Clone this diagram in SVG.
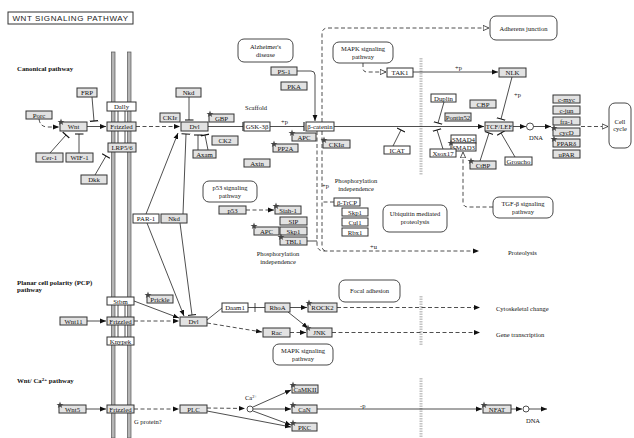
<svg xmlns="http://www.w3.org/2000/svg" xmlns:xlink="http://www.w3.org/1999/xlink" width="634" height="438" viewBox="0 0 634 438">
<style>
.g{fill:#e2e2e2;stroke:#333;stroke-width:1}
.w{fill:#fff;stroke:#333;stroke-width:1}
.m{fill:#fff;stroke:#333;stroke-width:0.9}
.t{font-family:"Liberation Serif",serif;font-size:6.8px;text-anchor:middle;fill:#111}
.s{font-family:"Liberation Serif",serif;font-size:6.5px;fill:#111}
.c{text-anchor:middle}
.h{font-family:"Liberation Serif",serif;font-size:6.8px;font-weight:bold;fill:#111}
.l{fill:none;stroke:#222;stroke-width:0.8}
.d{fill:none;stroke:#222;stroke-width:0.8;stroke-dasharray:4 2.5}
.mem{fill:#b5b5b5;stroke:#555;stroke-width:0.7}
.cx{fill:none;stroke:#222;stroke-width:0.8}
</style>
<defs>
<marker id="a" viewBox="0 0 10 10" refX="10" refY="5" markerWidth="6" markerHeight="6" markerUnits="userSpaceOnUse" orient="auto"><path d="M0,1 L10,5 L0,9z" fill="#111"/></marker>
<marker id="o" viewBox="0 0 12 12" refX="11" refY="6" markerWidth="7" markerHeight="7" markerUnits="userSpaceOnUse" orient="auto"><path d="M1,1.5 L11,6 L1,10.5z" fill="#fff" stroke="#111" stroke-width="1.2"/></marker>
<marker id="b" viewBox="0 0 4 12" refX="2" refY="6" markerWidth="4" markerHeight="9" markerUnits="userSpaceOnUse" orient="auto"><path d="M2,0 V12" stroke="#111" stroke-width="1.4"/></marker>
<path id="st" d="M0,-3.6 L0.9,-1.1 3.5,-1.1 1.4,0.5 2.2,3 0,1.5 -2.2,3 -1.4,0.5 -3.5,-1.1 -0.9,-1.1Z" fill="#444"/>
</defs>

<!-- title -->
<g id="title"><rect x="8" y="12" width="125" height="12" fill="#fff" stroke="#333"/><text x="70.5" y="21" font-family="Liberation Sans,sans-serif" font-size="8" text-anchor="middle" letter-spacing="0.6" fill="#222">WNT SIGNALING PATHWAY</text></g>

<!-- membranes -->
<g id="membrane">
<rect class="mem" x="111.5" y="52" width="3.5" height="386"/>
<rect class="mem" x="127.5" y="52" width="3.5" height="386"/>
</g>
<g id="watermark" stroke="#c4c4c4" stroke-width="3" stroke-dasharray="1.5 1">
<line x1="421" y1="58" x2="421" y2="175"/>
<line x1="421" y1="296" x2="421" y2="346"/>
<line x1="421" y1="378" x2="421" y2="438"/>
</g>

<!-- section labels -->
<g id="labels">
<text class="h" x="17" y="71">Canonical pathway</text>
<text class="h" x="17" y="285">Planar cell polarity (PCP)</text>
<text class="h" x="17" y="292">pathway</text>
<text class="h" x="17" y="383">Wnt/ Ca<tspan font-size="5" dy="-2.5">2+</tspan><tspan dy="2.5"> pathway</tspan></text>
<text class="s c" x="256" y="110">Scaffold</text>
<text class="s" x="281" y="124">+p</text>
<text class="s" x="455" y="70">+p</text>
<text class="s" x="514" y="97">+p</text>
<text class="s" x="322" y="188">+p</text>
<text class="s c" x="356" y="183">Phosphorylation</text>
<text class="s c" x="356" y="191">independence</text>
<text class="s c" x="278" y="256">Phosphorylation</text>
<text class="s c" x="278" y="264">independence</text>
<text class="s" x="370" y="249">+u</text>
<text class="s" x="508" y="255">Proteolysis</text>
<text class="s c" x="536" y="140">DNA</text>
<text class="s c" x="533" y="423">DNA</text>
<text class="s" x="496" y="311">Cytoskeletal change</text>
<text class="s" x="496" y="337">Gene transcription</text>
<text class="s" x="134" y="424">G protein?</text>
<text class="s" x="360" y="408">-p</text>
<text class="s" x="245" y="400">Ca<tspan font-size="4.5" dy="-2.5">2+</tspan></text>
</g>

<!-- connectors -->
<g id="connectors">
<path class="d" d="M39,119 Q40,127 48,127 L59,127" marker-end="url(#a)"/>
<path class="l" d="M92,97 L94,121" marker-end="url(#b)"/>
<path class="l" d="M87,126.5 L106,126.5" marker-end="url(#a)"/>
<path class="l" d="M50,153 L66,135" marker-end="url(#b)"/>
<path class="l" d="M79,153 L79,134" marker-end="url(#b)"/>
<path class="l" d="M95,175 L106,156" marker-end="url(#b)"/>
<path class="d" d="M136,126.5 L180,126.5" marker-end="url(#a)"/>
<path class="cx" d="M118,111 V122 M125,111 V122 M118,131 V143 M125,131 V143"/>
<path class="l" d="M189,97 L189,120" marker-end="url(#b)"/>
<path class="l" d="M208,126.5 L243,126.5" marker-end="url(#b)"/>
<path class="l" d="M270,126.5 L304,126.5" marker-end="url(#b)"/>
<path class="l" d="M334,126.5 L484,126.5" marker-end="url(#a)"/>
<path class="l" d="M297,71 L311,71 Q315,71 315,75 L315,121" marker-end="url(#a)"/>
<path class="d" d="M322,122 L322,34 Q322,28 328,28 L489,28" marker-end="url(#o)"/>
<path class="d" d="M363,63 L363,68 Q363,72 367,72 L386,72" marker-end="url(#o)"/>
<path class="l" d="M413,72 L498,72" marker-end="url(#a)"/>
<path class="l" d="M512,77 L501,119" marker-end="url(#b)"/>
<path class="l" d="M444,102 L438,123" marker-end="url(#b)"/>
<path class="l" d="M443,149 L437,130" marker-end="url(#b)"/>
<path class="l" d="M393,146 L401,130" marker-end="url(#b)"/>
<path class="l" d="M480,161 L489,133" marker-end="url(#b)"/>
<path class="l" d="M515,157 L501,133" marker-end="url(#b)"/>
<path class="l" d="M513,126.5 L526,126.5" marker-end="url(#a)"/>
<circle cx="530" cy="126.5" r="3.5" fill="#fff" stroke="#222" stroke-width="0.8"/>
<path class="l" d="M533.5,126.5 L551,126.5" marker-end="url(#a)"/>
<path class="d" d="M581,126.5 L608,126.5" marker-end="url(#o)"/>
<path class="d" d="M493,207 L468,207 Q463,207 463,202 L463,152" marker-end="url(#o)"/>
<path class="l" d="M198,150 L198,135" marker-end="url(#b)"/>
<path class="l" d="M208,150 L205,135" marker-end="url(#b)"/>
<path class="l" d="M146,214 L178,133" marker-end="url(#a)"/>
<path class="l" d="M183,214 L186,134" marker-end="url(#b)"/>
<path class="l" d="M147,223 L184,316" marker-end="url(#a)"/>
<path class="l" d="M180,223 L192,315" marker-end="url(#b)"/>
<path class="d" d="M246,210 L274,210" marker-end="url(#a)"/>
<path class="l" d="M307,241 L317,241"/>
<path class="d" d="M334,202 L322,202"/>
<path class="d" d="M317,131 L317,244 Q317,251 324,251 L479,251" marker-end="url(#a)"/>
<path class="d" d="M322,131 L322,246 Q322,251 327,251"/>
<path class="l" d="M87,321 L106,321" marker-end="url(#a)"/>
<path class="d" d="M134,321 L179,321" marker-end="url(#a)"/>
<path class="l" d="M134,301 L179,318" marker-end="url(#a)"/>
<path class="cx" d="M118,305 V317 M125,305 V317 M118,325 V337 M125,325 V337"/>
<path class="l" d="M207,320 L222,308"/>
<path class="d" d="M207,323 L262,332" marker-end="url(#a)"/>
<path class="l" d="M248,307.5 L265,307.5 M255,303 V312"/>
<path class="l" d="M290,307.5 L307,307.5" marker-end="url(#a)"/>
<path class="l" d="M288,312 L308,328" marker-end="url(#a)"/>
<path class="d" d="M290,332.5 L306,332.5" marker-end="url(#a)"/>
<path class="d" d="M337,307.5 L480,307.5" marker-end="url(#a)"/>
<path class="d" d="M332,332.5 L480,332.5" marker-end="url(#a)"/>
<path class="l" d="M86,409 L106,409" marker-end="url(#a)"/>
<path class="d" d="M134,409 L179,409" marker-end="url(#a)"/>
<path class="d" d="M207,408 L245,408.5" marker-end="url(#a)"/>
<circle cx="250" cy="409" r="3" fill="#fff" stroke="#222" stroke-width="0.8"/>
<path class="l" d="M207,411 L291,427" marker-end="url(#a)"/>
<path class="l" d="M253,407 L291,390" marker-end="url(#a)"/>
<path class="l" d="M253,409 L291,409" marker-end="url(#a)"/>
<path class="l" d="M253,411 L291,425" marker-end="url(#a)"/>
<path class="l" d="M317,409 L482,409" marker-end="url(#a)"/>
<path class="l" d="M511,409 L522,409" marker-end="url(#a)"/>
<circle cx="526" cy="409" r="3" fill="#fff" stroke="#222" stroke-width="0.8"/>
<path class="l" d="M529,409 L547,409" marker-end="url(#a)"/>
</g>

<!-- map boxes -->
<g id="map-alz"><rect class="m" x="238" y="39" width="55" height="23" rx="6"/><text class="s c" x="265.5" y="49">Alzheimer's</text><text class="s c" x="265.5" y="57">disease</text></g>
<g id="map-mapk1"><rect class="m" x="333" y="42" width="60" height="21" rx="6"/><text class="s c" x="363" y="51">MAPK signaling</text><text class="s c" x="363" y="59">pathway</text></g>
<g id="map-adh"><rect class="m" x="490" y="16" width="67" height="24" rx="6"/><text class="s c" x="523.5" y="30.5">Adherens junction</text></g>
<g id="map-cc"><rect class="m" x="609" y="103" width="22" height="45" rx="6"/><text class="s c" x="620" y="124">Cell</text><text class="s c" x="620" y="131">cycle</text></g>
<g id="map-p53"><rect class="m" x="203" y="181" width="54" height="21" rx="6"/><text class="s c" x="230" y="190">p53 signaling</text><text class="s c" x="230" y="198">pathway</text></g>
<g id="map-ubq"><rect class="m" x="383" y="205" width="64" height="27" rx="6"/><text class="s c" x="415" y="216">Ubiquitin mediated</text><text class="s c" x="415" y="224">proteolysis</text></g>
<g id="map-tgf"><rect class="m" x="493" y="197" width="60" height="21" rx="6"/><text class="s c" x="523" y="206">TGF-β signaling</text><text class="s c" x="523" y="214">pathway</text></g>
<g id="map-focal"><rect class="m" x="339" y="280" width="61" height="22" rx="6"/><text class="s c" x="369.5" y="293">Focal adhesion</text></g>
<g id="map-mapk2"><rect class="m" x="273" y="344" width="60" height="21" rx="6"/><text class="s c" x="303" y="353">MAPK signaling</text><text class="s c" x="303" y="361">pathway</text></g>

<!-- canonical nodes -->
<g id="n-porc"><rect class="g" x="26" y="111" width="26" height="8"/><text class="t" x="39" y="117.5">Porc</text></g>
<g id="n-frp"><rect class="g" x="77" y="88" width="20" height="9"/><text class="t" x="87" y="95">FRP</text></g>
<g id="n-wnt"><rect class="g" x="60" y="122" width="27" height="9"/><text class="t" x="73.5" y="129">Wnt</text><use href="#st" x="61" y="122"/></g>
<g id="n-cer1"><rect class="g" x="36" y="153" width="27" height="9"/><text class="t" x="49.5" y="160">Cer-1</text></g>
<g id="n-wif1"><rect class="g" x="66" y="153" width="27" height="9"/><text class="t" x="79.5" y="160">WIF-1</text></g>
<g id="n-dally"><rect class="w" x="107" y="102" width="29" height="9"/><text class="t" x="121.5" y="109">Dally</text></g>
<g id="n-fz1"><rect class="g" x="107" y="122" width="29" height="9"/><text class="t" x="121.5" y="129">Frizzled</text></g>
<g id="n-lrp"><rect class="g" x="108" y="143" width="28" height="9"/><text class="t" x="122" y="150">LRP5/6</text></g>
<g id="n-dkk"><rect class="g" x="81" y="175" width="26" height="9"/><text class="t" x="94" y="182">Dkk</text></g>
<g id="n-ckie"><rect class="g" x="160" y="113" width="20" height="9"/><text class="t" x="170" y="120">CKIε</text></g>
<g id="n-nkd1"><rect class="g" x="176" y="88" width="25" height="9"/><text class="t" x="188.5" y="95">Nkd</text></g>
<g id="n-dvl1"><rect class="g" x="181" y="122" width="27" height="9"/><text class="t" x="194.5" y="129">Dvl</text></g>
<g id="n-gbp"><rect class="g" x="209" y="114" width="25" height="8"/><text class="t" x="221.5" y="120.5">GBP</text><use href="#st" x="210" y="114"/></g>
<g id="n-ck2"><rect class="g" x="212" y="136" width="26" height="9"/><text class="t" x="225" y="143">CK2</text></g>
<g id="n-axam"><rect class="g" x="193" y="150" width="23" height="8"/><text class="t" x="204.5" y="156.5">Axam</text></g>
<g id="n-gsk"><rect class="w" x="244" y="122" width="26" height="9"/><text class="t" x="257" y="129">GSK-3β</text></g>
<g id="n-bcat"><rect class="w" x="306" y="122" width="28" height="9"/><text class="t" x="320" y="129">β-catenin</text></g>
<g id="n-apc1"><rect class="g" x="292" y="133" width="24" height="8"/><text class="t" x="304" y="139.5">APC</text><use href="#st" x="292" y="133"/></g>
<g id="n-pp2a"><rect class="g" x="273" y="144" width="25" height="8"/><text class="t" x="285.5" y="150.5">PP2A</text><use href="#st" x="274" y="144"/></g>
<g id="n-ckia"><rect class="g" x="323" y="140" width="27" height="8"/><text class="t" x="336.5" y="146.5">CKIα</text><use href="#st" x="324" y="140"/></g>
<g id="n-axin"><rect class="g" x="244" y="159" width="26" height="8"/><text class="t" x="257" y="165.5">Axin</text></g>
<g id="n-ps1"><rect class="g" x="271" y="67" width="26" height="8"/><text class="t" x="284" y="73.5">PS-1</text></g>
<g id="n-pka"><rect class="g" x="281" y="82" width="26" height="8"/><text class="t" x="294" y="88.5">PKA</text></g>
<g id="n-tak1"><rect class="w" x="387" y="68" width="26" height="9"/><text class="t" x="400" y="75">TAK1</text></g>
<g id="n-nlk"><rect class="g" x="499" y="68" width="27" height="9"/><text class="t" x="512.5" y="75">NLK</text></g>
<g id="n-icat"><rect class="w" x="384" y="146" width="26" height="8"/><text class="t" x="397" y="152.5">ICAT</text></g>
<g id="n-duplin"><rect class="w" x="431" y="94" width="25" height="8"/><text class="t" x="443.5" y="100.5">Duplin</text></g>
<g id="n-cbp"><rect class="g" x="470" y="100" width="26" height="8"/><text class="t" x="483" y="106.5">CBP</text></g>
<g id="n-pontin"><rect class="g" x="445" y="113" width="26" height="8"/><text class="t" x="458" y="119.5" font-size="6">Pontin52</text></g>
<g id="n-tcf"><rect class="g" x="485" y="122" width="28" height="9"/><text class="t" x="499" y="129">TCF/LEF</text></g>
<g id="n-smad4"><rect class="w" x="451" y="135" width="25" height="8"/><text class="t" x="463.5" y="141.5">SMAD4</text></g>
<g id="n-smad3"><rect class="w" x="451" y="143" width="25" height="8"/><text class="t" x="463.5" y="149.5">SMAD3</text><use href="#st" x="451" y="143"/></g>
<g id="n-xsox"><rect class="w" x="430" y="149" width="26" height="8"/><text class="t" x="443" y="155.5">Xsox17</text></g>
<g id="n-ctbp"><rect class="g" x="470" y="161" width="26" height="8"/><text class="t" x="483" y="167.5">CtBP</text><use href="#st" x="471" y="161"/></g>
<g id="n-groucho"><rect class="w" x="505" y="157" width="27" height="8"/><text class="t" x="518.5" y="163.5">Groucho</text></g>
<g id="n-cmyc"><rect class="g" x="553" y="95" width="27" height="8"/><text class="t" x="566.5" y="101.5">c-myc</text></g>
<g id="n-cjun"><rect class="g" x="553" y="106" width="27" height="8"/><text class="t" x="566.5" y="112.5">c-jun</text></g>
<g id="n-fra1"><rect class="g" x="553" y="117" width="27" height="8"/><text class="t" x="566.5" y="123.5">fra-1</text></g>
<g id="n-cycd"><rect class="g" x="553" y="128" width="27" height="8"/><text class="t" x="566.5" y="134.5">cycD</text><use href="#st" x="554" y="128"/></g>
<g id="n-ppar"><rect class="g" x="553" y="139" width="27" height="8"/><text class="t" x="566.5" y="145.5">PPARδ</text><use href="#st" x="554" y="139"/></g>
<g id="n-upar"><rect class="g" x="553" y="150" width="27" height="8"/><text class="t" x="566.5" y="156.5">uPAR</text></g>

<!-- p53 / beta-TrCP -->
<g id="n-p53"><rect class="g" x="219" y="206" width="27" height="8"/><text class="t" x="232.5" y="212.5">p53</text></g>
<g id="n-siah"><rect class="g" x="275" y="206" width="26" height="8"/><text class="t" x="288" y="212.5">Siah-1</text><use href="#st" x="276" y="206"/></g>
<g id="n-sip"><rect class="g" x="280" y="217" width="27" height="8"/><text class="t" x="293.5" y="223.5">SIP</text></g>
<g id="n-skp1a"><rect class="g" x="280" y="227" width="27" height="8"/><text class="t" x="293.5" y="233.5">Skp1</text></g>
<g id="n-tbl1"><rect class="g" x="280" y="237" width="27" height="8"/><text class="t" x="293.5" y="243.5">TBL1</text><use href="#st" x="281" y="237"/></g>
<g id="n-apc2"><rect class="g" x="254" y="227" width="25" height="8"/><text class="t" x="266.5" y="233.5">APC</text><use href="#st" x="254" y="226"/></g>
<g id="n-btrcp"><rect class="w" x="334" y="198" width="26" height="8"/><text class="t" x="347" y="204.5">β-TrCP</text></g>
<g id="n-skp1b"><rect class="w" x="342" y="208" width="26" height="8"/><text class="t" x="355" y="214.5">Skp1</text></g>
<g id="n-cul1"><rect class="w" x="342" y="218" width="26" height="8"/><text class="t" x="355" y="224.5">Cul1</text></g>
<g id="n-rbx1"><rect class="w" x="342" y="228" width="26" height="8"/><text class="t" x="355" y="234.5">Rbx1</text></g>

<!-- PCP -->
<g id="n-par1"><rect class="w" x="133" y="214" width="26" height="9"/><text class="t" x="146" y="221">PAR-1</text></g>
<g id="n-nkd2"><rect class="g" x="161" y="214" width="26" height="9"/><text class="t" x="174" y="221">Nkd</text></g>
<g id="n-stbm"><rect class="w" x="107" y="297" width="27" height="8"/><text class="t" x="120.5" y="303.5">Stbm</text></g>
<g id="n-prickle"><rect class="g" x="147" y="295" width="26" height="8"/><text class="t" x="160" y="301.5">Prickle</text><use href="#st" x="148" y="295"/></g>
<g id="n-wnt11"><rect class="g" x="60" y="317" width="27" height="8"/><text class="t" x="73.5" y="323.5">Wnt11</text></g>
<g id="n-fz2"><rect class="g" x="107" y="317" width="27" height="8"/><text class="t" x="120.5" y="323.5">Frizzled</text></g>
<g id="n-knypek"><rect class="w" x="107" y="337" width="27" height="8"/><text class="t" x="120.5" y="343.5">Knypek</text></g>
<g id="n-dvl2"><rect class="g" x="180" y="317" width="27" height="9"/><text class="t" x="193.5" y="324">Dvl</text></g>
<g id="n-daam1"><rect class="w" x="222" y="303" width="26" height="9"/><text class="t" x="235" y="310">Daam1</text></g>
<g id="n-rhoa"><rect class="g" x="265" y="303" width="25" height="9"/><text class="t" x="277.5" y="310">RhoA</text></g>
<g id="n-rock2"><rect class="g" x="308" y="303" width="29" height="9"/><text class="t" x="322.5" y="310">ROCK2</text><use href="#st" x="309" y="303"/></g>
<g id="n-rac"><rect class="g" x="263" y="328" width="27" height="9"/><text class="t" x="276.5" y="335">Rac</text></g>
<g id="n-jnk"><rect class="g" x="307" y="328" width="25" height="9"/><text class="t" x="319.5" y="335">JNK</text><use href="#st" x="308" y="328"/></g>

<!-- Ca2+ -->
<g id="n-wnt5"><rect class="g" x="59" y="405" width="27" height="8"/><text class="t" x="72.5" y="411.5">Wnt5</text><use href="#st" x="60" y="405"/></g>
<g id="n-fz3"><rect class="g" x="107" y="405" width="27" height="8"/><text class="t" x="120.5" y="411.5">Frizzled</text></g>
<g id="n-plc"><rect class="g" x="180" y="405" width="27" height="8"/><text class="t" x="193.5" y="411.5">PLC</text></g>
<g id="n-camkii"><rect class="g" x="292" y="385" width="26" height="8"/><text class="t" x="305" y="391.5">CaMKII</text><use href="#st" x="293" y="385"/></g>
<g id="n-can"><rect class="g" x="292" y="405" width="25" height="8"/><text class="t" x="304.5" y="411.5">CaN</text><use href="#st" x="293" y="405"/></g>
<g id="n-pkc"><rect class="g" x="292" y="423" width="25" height="8"/><text class="t" x="304.5" y="429.5">PKC</text><use href="#st" x="293" y="423"/></g>
<g id="n-nfat"><rect class="g" x="483" y="405" width="28" height="8"/><text class="t" x="497" y="411.5">NFAT</text><use href="#st" x="484" y="405"/></g>
</svg>
